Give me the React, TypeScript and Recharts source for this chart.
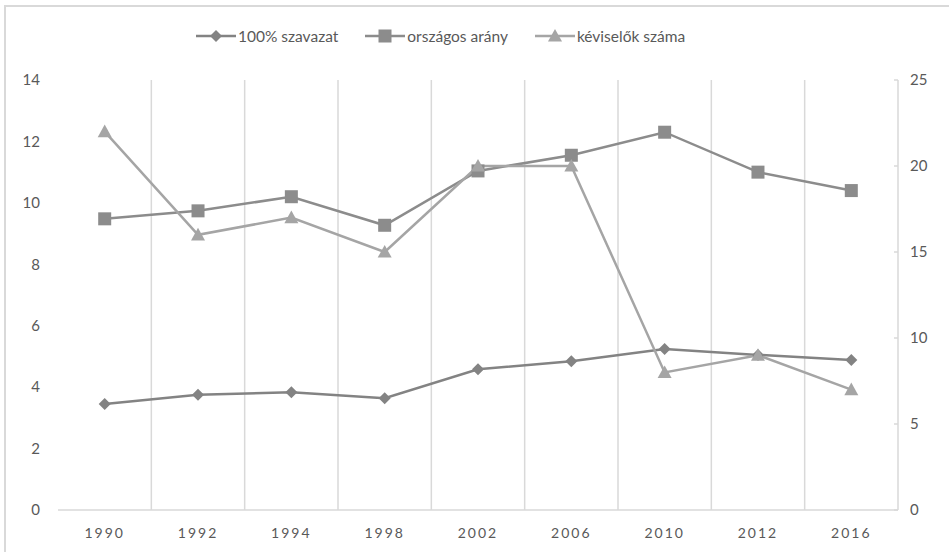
import { LineChart, Line, XAxis, YAxis, CartesianGrid } from "recharts";

const YEARS = ["1990", "1992", "1994", "1998", "2002", "2006", "2010", "2012", "2016"];
const SZAVAZAT = [3.45, 3.75, 3.83, 3.64, 4.58, 4.84, 5.24, 5.05, 4.88];
const ORSZAGOS = [9.48, 9.74, 10.2, 9.27, 11.04, 11.55, 12.3, 11.0, 10.4];
const KEPVISELOK = [22, 16, 17, 15, 20, 20, 8, 9, 7];

const LEFT_TICKS = [0, 2, 4, 6, 8, 10, 12, 14];
const RIGHT_TICKS = [0, 5, 10, 15, 20, 25];

const SERIES = [
  { key: "szavazat", name: "100% szavazat", color: "#838383", shape: "diamond", axis: "left" },
  { key: "orszagos", name: "országos arány", color: "#8c8c8c", shape: "square", axis: "left" },
  { key: "kepviselok", name: "kéviselők száma", color: "#a5a5a5", shape: "triangle", axis: "right" },
];

const data = YEARS.map((year, i) => ({
  year,
  szavazat: SZAVAZAT[i],
  orszagos: ORSZAGOS[i],
  kepviselok: KEPVISELOK[i],
}));

const FONT = "Lato, 'Open Sans', sans-serif";
const GRID = "#d9d9d9";
const TEXT = "#595959";

function Marker({ shape, x, y, color }: { shape: string; x: number; y: number; color: string }) {
  if (shape === "diamond") {
    const r = 6;
    return <polygon points={`${x},${y - r} ${x + r},${y} ${x},${y + r} ${x - r},${y}`} fill={color} />;
  }
  if (shape === "square") {
    const r = 6.5;
    return <rect x={x - r} y={y - r} width={r * 2} height={r * 2} fill={color} />;
  }
  const r = 7;
  return <polygon points={`${x},${y - r} ${x + r},${y + r * 0.8} ${x - r},${y + r * 0.8}`} fill={color} />;
}

function makeDot(shape: string, color: string) {
  return (props: any) => {
    const { cx, cy, index } = props;
    if (cx == null || cy == null) return <g key={index} />;
    return <Marker key={index} shape={shape} x={cx} y={cy} color={color} />;
  };
}

function ChartLegend() {
  return (
    <div
      style={{
        position: "absolute",
        left: 195,
        top: 26,
        display: "flex",
        alignItems: "center",
        fontFamily: FONT,
        fontSize: 15.5,
        color: TEXT,
        whiteSpace: "nowrap",
      }}
    >
      {SERIES.map((s, i) => (
        <div key={s.key} style={{ display: "flex", alignItems: "center", marginRight: i < SERIES.length - 1 ? 26 : 0 }}>
          <svg width={42} height={20} style={{ display: "block" }}>
            <line x1={1} y1={10} x2={41} y2={10} stroke={s.color} strokeWidth={2.5} />
            <Marker shape={s.shape} x={21} y={10} color={s.color} />
          </svg>
          <span style={{ marginLeft: 1 }}>{s.name}</span>
        </div>
      ))}
    </div>
  );
}

export default function App() {
  return (
    <div style={{ position: "absolute", left: 0, top: 0, width: 949, height: 552, overflow: "hidden", background: "#fff" }}>
      <div
        style={{
          position: "absolute",
          left: 4,
          top: 5,
          width: 980,
          height: 600,
          border: `2px solid ${GRID}`,
        }}
      />
      <ChartLegend />
      <div style={{ position: "absolute", left: 0, top: 0 }}>
        <LineChart width={949} height={552} data={data} margin={{ top: 80, right: 0, bottom: 0, left: 0 }}>
          <CartesianGrid
            horizontal={false}
            stroke={GRID}
            strokeWidth={1.5}
            verticalCoordinatesGenerator={({ offset }: any) =>
              YEARS.slice(1).map((_, i) => offset.left + ((i + 1) * offset.width) / YEARS.length)
            }
          />
          <XAxis
            dataKey="year"
            height={42}
            padding={{ left: 46.7, right: 46.7 }}
            axisLine={{ stroke: GRID, strokeWidth: 1.5 }}
            tickLine={false}
            tickMargin={12}
            tick={{ fill: TEXT, fontSize: 14, fontFamily: FONT, letterSpacing: 2 }}
          />
          <YAxis
            yAxisId="left"
            orientation="left"
            width={58}
            domain={[0, 14]}
            ticks={LEFT_TICKS}
            axisLine={false}
            tickLine={false}
            tickMargin={12}
            tick={{ fill: TEXT, fontSize: 15, fontFamily: FONT }}
          />
          <YAxis
            yAxisId="right"
            orientation="right"
            width={51}
            domain={[0, 25]}
            ticks={RIGHT_TICKS}
            axisLine={{ stroke: GRID, strokeWidth: 1.5 }}
            tickLine={{ stroke: GRID, strokeWidth: 1.5 }}
            tickSize={-4}
            tickMargin={16}
            tick={{ fill: TEXT, fontSize: 15, fontFamily: FONT, textAnchor: "start" }}
          />
          {SERIES.map((s) => (
            <Line
              key={s.key}
              yAxisId={s.axis}
              dataKey={s.key}
              name={s.name}
              type="linear"
              stroke={s.color}
              strokeWidth={2.5}
              dot={makeDot(s.shape, s.color)}
              activeDot={false}
              isAnimationActive={false}
            />
          ))}
        </LineChart>
      </div>
    </div>
  );
}
